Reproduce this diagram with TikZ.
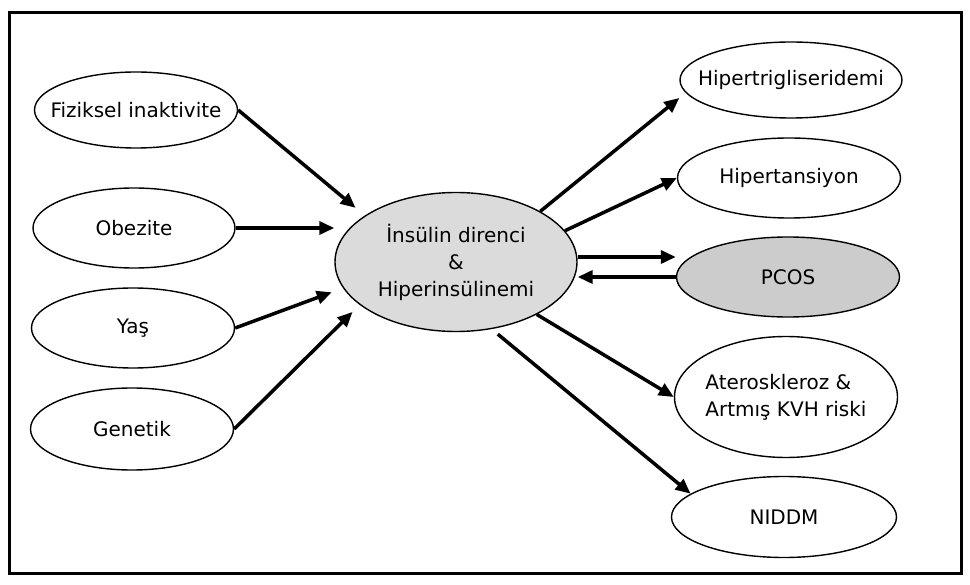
\documentclass[tikz,border=0pt]{standalone}
\usepackage{fontspec}
\setmainfont{DejaVu Sans}
\usepackage{tikz}
\usetikzlibrary{shapes.geometric}
\usetikzlibrary{arrows.meta}
\definecolor{insgray}{gray}{0.86}
\definecolor{pcosgray}{gray}{0.80}
\tikzstyle{every node}=[font=\fontsize{20}{27}\selectfont]
\tikzstyle{oval}=[ellipse, draw, line width=1.4pt, inner xsep=-25pt, inner ysep=0pt, minimum width=222pt, minimum height=80pt]
\tikzstyle{arr}=[-{Triangle[length=15pt,width=13pt]}, line width=3.5pt]

\begin{document}
\begin{tikzpicture}[x=1pt, y=-1pt]
    \useasboundingbox (0, 0) rectangle (970, 585);
    \draw [line width=3pt] (9, 13) rectangle (961, 573);

    \node [oval, minimum width=203pt, minimum height=76pt] (fiz) at (136, 110) {Fiziksel inaktivite};
    \node [oval, minimum width=202pt] (obe) at (134, 228) {Obezite};
    \node [oval, minimum width=203pt] (yas) at (133, 328) {Yaş};
    \node [oval, minimum width=203pt, minimum height=82pt] (gen) at (132, 429) {Genetik};

    \node [oval, fill=insgray, minimum width=242pt, minimum height=139pt, align=center] (ins) at (456, 262) {İnsülin direnci\\\&\\Hiperinsülinemi};

    \node [oval, minimum height=76pt] (htg) at (791, 80) {Hipertrigliseridemi};
    \node [oval, minimum width=223pt] (hts) at (789, 178) {Hipertansiyon};
    \node [oval, fill=pcosgray, minimum width=223pt] (pcos) at (788, 277) {PCOS};
    \node [oval, minimum width=223pt, minimum height=121pt, align=left] (ath) at (786, 397) {Ateroskleroz \&\\Artmış KVH riski};
    \node [oval, minimum width=225pt, minimum height=81pt] (nid) at (784, 517) {NIDDM};

    \draw [arr, shorten >=12pt] (fiz.east) -- (ins.153);
    \draw [arr] (obe.east) -- (obe.east -| ins.west);
    \draw [arr, shorten >=12pt] (yas.east) -- (ins.193);
    \draw [arr, shorten >=10pt] (gen.east) -- (ins.204);

    \draw [arr] (ins.31) -- ([yshift=-18pt]htg.west);
    \draw [arr] (ins.16) -- (hts.west);
    \draw [arr] ([yshift=20pt]pcos.west -| ins.east) -- ([yshift=20pt]pcos.west);
    \draw [arr] (pcos.west) -- (pcos.west -| ins.east);
    \draw [arr] (ins.327) -- (ath.west);
    \draw [arr, shorten <=8pt] (ins.298) -- (nid.166);
\end{tikzpicture}
\end{document}
